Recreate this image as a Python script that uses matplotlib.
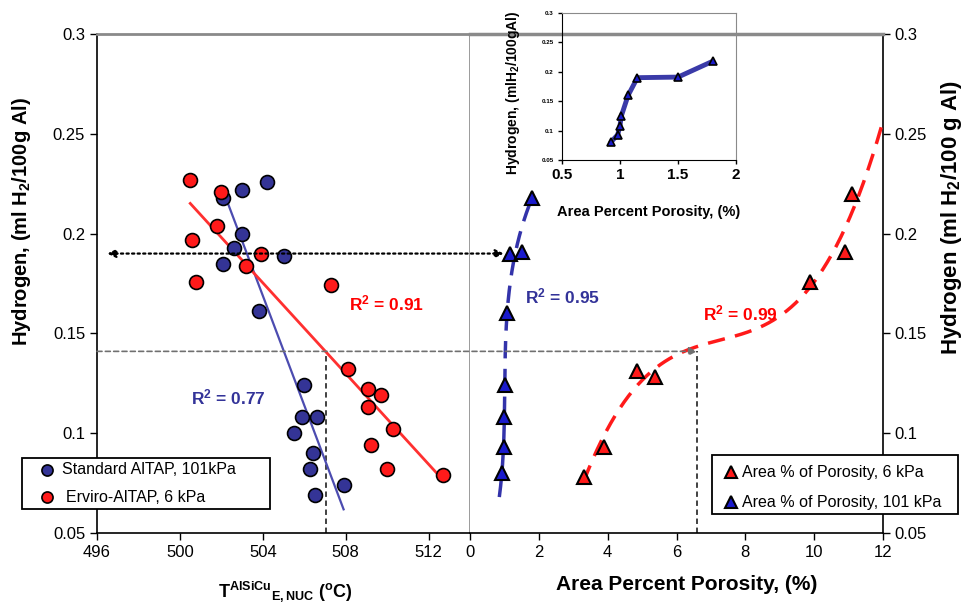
import numpy as np
import matplotlib
matplotlib.use("Agg")
import matplotlib.pyplot as plt
from matplotlib.lines import Line2D
from matplotlib.patches import ConnectionPatch, Rectangle

plt.rcParams['font.family'] = ['Liberation Sans', 'DejaVu Sans']
plt.rcParams['mathtext.fontset'] = 'custom'
plt.rcParams['mathtext.rm'] = 'Liberation Sans:bold'
plt.rcParams['mathtext.it'] = 'Liberation Sans:bold'
plt.rcParams['mathtext.bf'] = 'Liberation Sans:bold'
plt.rcParams['mathtext.default'] = 'rm'

# ---------------- data ----------------
# Left panel: eutectic nucleation temperature vs hydrogen
std_T = [503.0, 504.2, 502.1, 503.0, 502.6, 502.1, 505.0, 503.8, 506.0, 505.9, 506.6, 505.5, 506.4, 506.3, 507.9, 506.5]
std_H = [0.222, 0.226, 0.218, 0.200, 0.193, 0.185, 0.189, 0.161, 0.124, 0.108, 0.108, 0.100, 0.090, 0.082, 0.074, 0.069]
env_T = [500.5, 502.0, 501.8, 500.6, 503.9, 503.2, 500.8, 507.3, 508.1, 509.1, 509.7, 509.1, 510.3, 509.2, 510.0, 512.7]
env_H = [0.227, 0.221, 0.204, 0.197, 0.190, 0.184, 0.176, 0.174, 0.132, 0.122, 0.119, 0.113, 0.102, 0.094, 0.082, 0.079]

# Right panel: area percent porosity vs hydrogen
por6_x = [3.30, 3.88, 4.85, 5.38, 9.88, 10.9, 11.1]
por6_H = [0.078, 0.093, 0.131, 0.128, 0.176, 0.191, 0.220]
por101_x = [0.92, 0.98, 1.00, 1.01, 1.07, 1.15, 1.50, 1.80]
por101_H = [0.080, 0.093, 0.108, 0.124, 0.160, 0.190, 0.191, 0.218]

# Reference lines
ref_H_dotted = 0.19
ref_H_dashed = 0.141
ref_T = 507.05
ref_por = 6.6

left_xticks = [496, 500, 504, 508, 512]
right_xticks = [0, 2, 4, 6, 8, 10, 12]
yticks = [0.05, 0.1, 0.15, 0.2, 0.25, 0.3]
ytick_labels = ['0.05', '0.1', '0.15', '0.2', '0.25', '0.3']
inset_xticks = [0.5, 1, 1.5, 2]
inset_xlabels = ['0.5', '1', '1.5', '2']

legL_labels = ['Standard AlTAP, 101kPa', 'Erviro-AlTAP, 6 kPa']
legR_labels = ['Area % of Porosity, 6 kPa', 'Area % of Porosity, 101 kPa']

BLUE_C = '#343496'
RED_C = '#ff1a1a'
BLUE_T = '#1a1acc'
TXT_BLUE = '#333399'

W, H = 966, 606
fig = plt.figure(figsize=(W / 100, H / 100), dpi=100)

def fx(px):
    return px / W

def fy(py):
    return 1 - py / H

axL = fig.add_axes([fx(97), fy(533), fx(470) - fx(97), fy(34) - fy(533)])
axR = fig.add_axes([fx(470), fy(533), fx(883) - fx(470), fy(34) - fy(533)])

for ax in (axL, axR):
    ax.set_ylim(0.05, 0.3)
    ax.set_yticks(yticks)
    ax.tick_params(direction='out', length=5, width=1, labelsize=12, colors='black')

axL.set_xlim(496, 514)
axL.set_xticks(left_xticks)
axL.set_yticklabels(ytick_labels)
axL.spines['top'].set_color('#8a8a8a'); axL.spines['top'].set_linewidth(2)
axL.spines['right'].set_color('#8a8a8a'); axL.spines['right'].set_linewidth(1.2)
axL.spines['left'].set_linewidth(1.2); axL.spines['bottom'].set_linewidth(1.2)

axR.set_xlim(0, 12)
axR.set_xticks(right_xticks)
axR.yaxis.tick_right()
axR.set_yticklabels(ytick_labels)
axR.spines['left'].set_visible(False)
axR.spines['top'].set_color('#8a8a8a'); axR.spines['top'].set_linewidth(2.5)
axR.spines['right'].set_linewidth(1.2); axR.spines['bottom'].set_linewidth(1.2)

# Left panel data
axL.plot(std_T, std_H, 'o', ms=10, mfc=BLUE_C, mec='black', mew=1.2, zorder=4)
axL.plot(env_T, env_H, 'o', ms=10, mfc=RED_C, mec='black', mew=1.2, zorder=4)
for xs, ys, c, lw in ((std_T, std_H, '#4c4cb0', 1.6), (env_T, env_H, '#ff3030', 2.0)):
    p = np.polyfit(xs, ys, 1)
    xx = np.array([min(xs), max(xs)])
    axL.plot(xx, np.polyval(p, xx), color=c, lw=lw, zorder=3)
axL.text(508.15, 0.165, 'R$^2$ = 0.91', color='#ff0000', fontsize=12.5, fontweight='bold',
         ha='left', va='center')
axL.text(500.56, 0.1177, 'R$^2$ = 0.77', color=TXT_BLUE, fontsize=12.5, fontweight='bold',
         ha='left', va='center')

# Right panel data
axR.plot(por6_x, por6_H, '^', ms=10, mfc=RED_C, mec='black', mew=1.5, zorder=4)
axR.plot(por101_x, por101_H, '^', ms=10, mfc=BLUE_T, mec='black', mew=1.5, zorder=4)
p6 = np.polyfit(por6_x, por6_H, 3)
xx6 = np.linspace(min(por6_x), 12, 200)
axR.plot(xx6, np.polyval(p6, xx6), color='#ff1a1a', lw=2.5, ls=(0, (5, 3)), zorder=3)
p101 = np.polyfit(por101_H, por101_x, 3)
yy = np.linspace(0.068, max(por101_H), 200)
axR.plot(np.polyval(p101, yy), yy, color='#3333aa', lw=2.5, ls=(0, (5, 3)), zorder=3)
axR.text(1.6, 0.1687, 'R$^2$ = 0.95', color=TXT_BLUE, fontsize=12.5, fontweight='bold',
         ha='left', va='center')
axR.text(6.77, 0.160, 'R$^2$ = 0.99', color='#ff0000', fontsize=12.5, fontweight='bold',
         ha='left', va='center')

# Reference lines
con1 = ConnectionPatch(xyA=(496.5, ref_H_dotted), coordsA=axL.transData,
                       xyB=(0.98, ref_H_dotted), coordsB=axR.transData,
                       arrowstyle='<|-|>', linestyle=(0, (1, 1.5)), lw=1.6, color='black',
                       mutation_scale=12, zorder=5)
fig.add_artist(con1)
con2 = ConnectionPatch(xyA=(496.0, ref_H_dashed), coordsA=axL.transData,
                       xyB=(ref_por, ref_H_dashed), coordsB=axR.transData,
                       arrowstyle='-|>', linestyle=(0, (3, 2)), lw=1.2, color='#707070',
                       mutation_scale=12, zorder=5)
fig.add_artist(con2)
axL.plot([ref_T, ref_T], [0.05, ref_H_dashed], color='#333333', lw=1.3, ls=(0, (3, 2)), zorder=2)
axR.plot([ref_por, ref_por], [0.05, ref_H_dashed], color='#333333', lw=1.3, ls=(0, (3, 2)), zorder=2)

# Axis labels
fig.text(fx(22), fy(222), 'Hydrogen, (ml H$_2$/100g Al)', rotation=90, ha='center', va='center',
         fontsize=14.5, fontweight='bold')
fig.text(fx(952), fy(218), 'Hydrogen (ml H$_2$/100 g Al)', rotation=90, ha='center', va='center',
         fontsize=16, fontweight='bold')
fig.text(fx(285), fy(592), 'T$^{AlSiCu}$$_{E,NUC}$ ($^o$C)', ha='center', va='center', fontsize=13,
         fontweight='bold')
fig.text(fx(687), fy(584), 'Area Percent Porosity, (%)', ha='center', va='center', fontsize=15,
         fontweight='bold')

# Legends (drawn manually to match the boxed layout)
fig.add_artist(Rectangle((fx(22), fy(509)), fx(270) - fx(22), fy(458) - fy(509),
                         transform=fig.transFigure, fill=True, facecolor='white',
                         edgecolor='black', lw=1.3, zorder=6))
for i, (lab, col) in enumerate(zip(legL_labels, [BLUE_C, RED_C])):
    yrow = fy(470 + 27 * i)
    fig.add_artist(Line2D([fx(47)], [yrow], transform=fig.transFigure, ls='none', marker='o',
                          ms=8, mfc=col, mec='black', mew=1.2, zorder=7))
    fig.text(fx(62 + 4 * i), yrow, lab, ha='left', va='center', fontsize=11.5, zorder=7)

fig.add_artist(Rectangle((fx(712), fy(514)), fx(958) - fx(712), fy(455) - fy(514),
                         transform=fig.transFigure, fill=True, facecolor='white',
                         edgecolor='black', lw=1.3, zorder=6))
for i, (lab, col) in enumerate(zip(legR_labels, [RED_C, BLUE_T])):
    yrow = fy(472 + 30 * i)
    fig.add_artist(Line2D([fx(731)], [yrow], transform=fig.transFigure, ls='none', marker='^',
                          ms=9, mfc=col, mec='black', mew=1.5, zorder=7))
    fig.text(fx(742), yrow, lab, ha='left', va='center', fontsize=11.5, zorder=7)

# Inset
axI = fig.add_axes([fx(562), fy(160), fx(736) - fx(562), fy(13) - fy(160)])
axI.patch.set_alpha(0)
axI.set_xlim(0.5, 2)
axI.set_ylim(0.05, 0.3)
axI.set_xticks(inset_xticks)
axI.set_xticklabels(inset_xlabels, fontsize=11, fontweight='bold')
axI.set_yticks(yticks)
axI.set_yticklabels(ytick_labels, fontsize=4.5, fontweight='bold')
axI.tick_params(direction='out', length=3, width=1, pad=3)
axI.spines['top'].set_color('#8a8a8a'); axI.spines['right'].set_color('#8a8a8a')
axI.plot(por101_x, por101_H, color='#3a3aa8', lw=3.5, solid_capstyle='round', zorder=3)
axI.plot(por101_x, por101_H, '^', ms=6, mfc=BLUE_T, mec='black', mew=1.2, zorder=4)
fig.text(fx(649), fy(212), 'Area Percent Porosity, (%)', ha='center', va='center', fontsize=10.5,
         fontweight='bold')
fig.text(fx(513), fy(93), 'Hydrogen, (mlH$_2$/100gAl)', rotation=90, ha='center', va='center',
         fontsize=10, fontweight='bold')

fig.savefig('out.png', dpi=100)
